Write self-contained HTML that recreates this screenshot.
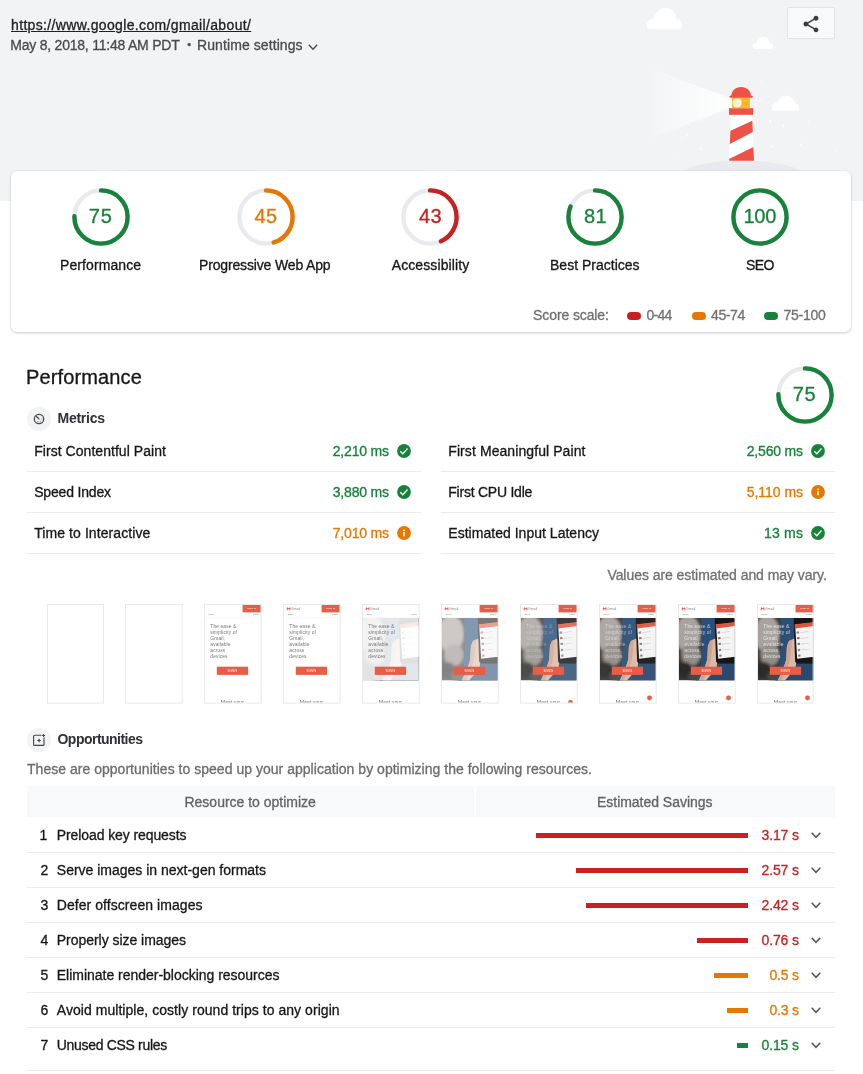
<!DOCTYPE html>
<html lang="en"><head><meta charset="utf-8"><title>Lighthouse Report</title>
<style>
html,body{margin:0;padding:0;background:#fff}
body{width:863px;height:1074px;position:relative;overflow:hidden;font-family:"Liberation Sans", sans-serif;-webkit-font-smoothing:antialiased}
.abs{position:absolute;display:block}
.t{position:absolute;white-space:nowrap;line-height:20px;height:20px;margin:0;padding:0;-webkit-text-stroke:.3px currentColor}
</style></head>
<body>
<div class="abs" style="left:0;top:0;width:863px;height:201px;background:#f1f3f4"></div>
<svg class="abs" style="left:0;top:0" width="863" height="171" viewBox="0 0 863 171">
<defs>
<linearGradient id="beam" x1="0" y1="0" x2="1" y2="0"><stop offset="0" stop-color="#fff" stop-opacity="0"/><stop offset="0.1" stop-color="#fff" stop-opacity="0.24"/><stop offset="1" stop-color="#fff" stop-opacity="1"/></linearGradient>
<clipPath id="hdr"><rect x="0" y="0" width="863" height="171"/></clipPath>
</defs>
<g clip-path="url(#hdr)">
<ellipse cx="742" cy="180.6" rx="68" ry="20.2" fill="#e8eaed"/>
<polygon points="647,67 647,139.5 737,105.5 737,100.5" fill="url(#beam)"/>
<g fill="#fff">
<path d="M650.2 29.2a3.6 3.6 0 0 1-3.5-3.6c0-4 3.2-7 7.2-6.6 1.2-6 5.6-10.9 11.6-10.9 6.3 0 10.6 4.6 11 10.7 3.2.4 5.6 3 5.600 6.200 0 2.200-1.400 4.200-3.800 4.200z"/>
<path d="M754.800 48.900a2 2 0 0 1-2-2.100c0-2.300 1.900-4 4.100-3.800.7-3.400 3.200-6.100 6.600-6.100 3.600 0 6 2.600 6.300 6 1.800.2 3.300 1.700 3.300 3.600 0 1.300-.9 2.400-2.200 2.400z"/>
<path d="M774.700 110.700a2.700 2.700 0 0 1-2.700-2.800c0-3 2.500-5.300 5.500-5 .9-4.500 4.300-7.100 8.800-7.100 4.800 0 8 2.800 8.400 7.300 2.500.3 4.500 2.300 4.500 4.700 0 1.700-1.200 2.900-3 2.900z"/>
<circle cx="761.500" cy="81.500" r=".9"/><circle cx="760" cy="100.900" r="1"/><circle cx="770" cy="121" r="1"/><circle cx="783.400" cy="125.500" r=".9"/><circle cx="771.500" cy="146.500" r=".9"/><circle cx="701" cy="149" r=".9"/>
<circle cx="688.500" cy="125" r=".8"/><circle cx="702" cy="120" r=".8"/><circle cx="682" cy="138" r=".8"/><circle cx="687.500" cy="135" r=".8"/><circle cx="674.500" cy="159.500" r=".8"/><circle cx="800.500" cy="144.500" r=".9"/><circle cx="808.500" cy="122" r=".8"/><circle cx="835.500" cy="150" r=".8"/><circle cx="761.500" cy="81.500" r=".8"/>
</g>
<polygon points="731.100,114.800 752.100,114.800 754,160.700 729,160.700" fill="#fff"/>
<polygon points="752.300,120.700 752.800,132.100 729.800,144 730.400,130.800" fill="#ec5246"/>
<polygon points="753.400,147 754,160.700 729,160.700 729.100,159" fill="#ec5246"/>
<rect x="729" y="108.200" width="24.200" height="6.600" fill="#ec5246"/>
<rect x="732.100" y="97.500" width="17.700" height="10.800" fill="#f6b52a"/>
<circle cx="737.100" cy="102.900" r="4.700" fill="#fdf0d2"/>
<path d="M731.300 96.200c0-5.600 4.300-9.200 9.800-9.200s9.800 3.600 9.800 9.200z" fill="#ec5246"/>
<path d="M729 96.700l1.500-1.100h21.200l1.500 1.100-1.500 1.100h-21.200z" fill="#ec5246"/>
</g>
</svg>

<div class="abs" style="left:787.3px;top:7.4px;width:47.4px;height:31.6px;box-sizing:border-box;background:#f8f9fa;border:1px solid #e3e4e6;border-radius:2px"></div>
<svg class="abs" style="left:801px;top:13.6px" width="20" height="20" viewBox="0 0 24 24"><path fill="#3c3c3c" d="M18 16.08c-.76 0-1.44.3-1.96.77L8.91 12.7c.05-.23.09-.46.09-.7s-.04-.47-.09-.7l7.05-4.11c.54.5 1.25.81 2.04.81 1.66 0 3-1.34 3-3s-1.34-3-3-3-3 1.34-3 3c0 .24.04.47.09.7L8.04 9.81C7.5 9.31 6.79 9 6 9c-1.66 0-3 1.34-3 3s1.34 3 3 3c.79 0 1.5-.31 2.04-.81l7.12 4.16c-.05.21-.08.43-.08.65 0 1.61 1.31 2.92 2.92 2.92 1.61 0 2.92-1.31 2.92-2.92s-1.31-2.92-2.92-2.92z"/></svg>
<svg class="abs" style="left:304.5px;top:38.8px" width="16" height="16" viewBox="-8 -8 16 16"><path d="M-4.2 -2.2 L0 2.2 L4.2 -2.2" fill="none" stroke="#4a4a4a" stroke-width="1.4"/></svg>
<div class="abs" style="left:11px;top:171px;width:840px;height:161px;background:#fff;border-radius:6px;box-shadow:0 1px 3px rgba(0,0,0,.2),0 0 1px rgba(0,0,0,.1)"></div>
<svg class="abs" style="left:70.7px;top:186.8px" width="60" height="60" viewBox="0 0 60 60"><circle cx="30" cy="30" r="26.6" fill="none" stroke="#e8eaed" stroke-width="4.4"/><circle cx="30" cy="30" r="26.6" fill="none" stroke="#178239" stroke-width="4.4" stroke-linecap="round" stroke-dasharray="125.35 167.13" transform="rotate(-90 30 30)"/></svg>
<svg class="abs" style="left:235.8px;top:186.8px" width="60" height="60" viewBox="0 0 60 60"><circle cx="30" cy="30" r="26.6" fill="none" stroke="#e8eaed" stroke-width="4.4"/><circle cx="30" cy="30" r="26.6" fill="none" stroke="#e67700" stroke-width="4.4" stroke-linecap="round" stroke-dasharray="75.21 167.13" transform="rotate(-90 30 30)"/></svg>
<svg class="abs" style="left:400px;top:186.8px" width="60" height="60" viewBox="0 0 60 60"><circle cx="30" cy="30" r="26.6" fill="none" stroke="#e8eaed" stroke-width="4.4"/><circle cx="30" cy="30" r="26.6" fill="none" stroke="#c7221f" stroke-width="4.4" stroke-linecap="round" stroke-dasharray="71.87 167.13" transform="rotate(-90 30 30)"/></svg>
<svg class="abs" style="left:565px;top:186.8px" width="60" height="60" viewBox="0 0 60 60"><circle cx="30" cy="30" r="26.6" fill="none" stroke="#e8eaed" stroke-width="4.4"/><circle cx="30" cy="30" r="26.6" fill="none" stroke="#178239" stroke-width="4.4" stroke-linecap="round" stroke-dasharray="135.38 167.13" transform="rotate(-90 30 30)"/></svg>
<svg class="abs" style="left:730px;top:186.8px" width="60" height="60" viewBox="0 0 60 60"><circle cx="30" cy="30" r="26.6" fill="none" stroke="#e8eaed" stroke-width="4.4"/><circle cx="30" cy="30" r="26.6" fill="none" stroke="#178239" stroke-width="4.4" stroke-linecap="round" stroke-dasharray="167.13 167.13" transform="rotate(-90 30 30)"/></svg>
<div class="abs" style="left:626.5px;top:312.4px;width:14.3px;height:7.2px;border-radius:4px;background:#c7221f"></div>
<div class="abs" style="left:691.7px;top:312.4px;width:14.3px;height:7.2px;border-radius:4px;background:#e67700"></div>
<div class="abs" style="left:763.8px;top:312.4px;width:14.3px;height:7.2px;border-radius:4px;background:#178239"></div>
<svg class="abs" style="left:774.75px;top:364.9px" width="60" height="60" viewBox="0 0 60 60"><circle cx="30" cy="30" r="26.6" fill="none" stroke="#e8eaed" stroke-width="4.4"/><circle cx="30" cy="30" r="26.6" fill="none" stroke="#178239" stroke-width="4.4" stroke-linecap="round" stroke-dasharray="125.35 167.13" transform="rotate(-90 30 30)"/></svg>
<svg class="abs" style="left:27px;top:406.8px" width="24" height="24" viewBox="0 0 24 24"><circle cx="12" cy="12" r="12" fill="#f1f3f4"/><circle cx="12" cy="12" r="4.7" fill="none" stroke="#4a4a4a" stroke-width="1.25"/><path d="M12.3 12.3 L8.9 9" stroke="#4a4a4a" stroke-width="1.2" fill="none"/><path d="M10.6 15.1l.4-.9M13.400 15.100l-.4-.9M15.300 12h-1" stroke="#4a4a4a" stroke-width=".8" fill="none"/></svg>
<svg class="abs" style="left:27px;top:727.6px" width="24" height="24" viewBox="0 0 24 24"><circle cx="12" cy="12" r="12" fill="#f1f3f4"/><rect x="6.6" y="7.2" width="10.4" height="10.2" rx="1" fill="none" stroke="#444" stroke-width="1.1"/><path d="M12.100 10.300l.7 1.500 1.500.7-1.500.7-.7 1.500-.7-1.500-1.500-.7 1.500-.7z" fill="#444"/><rect x="14.5" y="5.5" width="4" height="4" fill="#f1f3f4"/><path d="M16.6 6v3M15.1 7.5h3" stroke="#444" stroke-width="1"/></svg>
<div class="abs" style="left:27px;top:471px;width:394px;height:1px;background:#ebebeb"></div>
<div class="abs" style="left:441px;top:471px;width:394px;height:1px;background:#ebebeb"></div>
<div class="abs" style="left:27px;top:512px;width:394px;height:1px;background:#ebebeb"></div>
<div class="abs" style="left:441px;top:512px;width:394px;height:1px;background:#ebebeb"></div>
<div class="abs" style="left:27px;top:553px;width:394px;height:1px;background:#ebebeb"></div>
<div class="abs" style="left:441px;top:553px;width:394px;height:1px;background:#ebebeb"></div>
<svg class="abs" style="left:396.9px;top:443.8px" width="14" height="14" viewBox="0 0 14 14"><circle cx="7" cy="7" r="6.9" fill="#178239"/><path d="M3.3 7.3 L5.8 9.7 L10.5 4.5" fill="none" stroke="#fff" stroke-width="1.4"/></svg>
<svg class="abs" style="left:810.9px;top:443.8px" width="14" height="14" viewBox="0 0 14 14"><circle cx="7" cy="7" r="6.9" fill="#178239"/><path d="M3.3 7.3 L5.8 9.7 L10.5 4.5" fill="none" stroke="#fff" stroke-width="1.4"/></svg>
<svg class="abs" style="left:396.9px;top:484.8px" width="14" height="14" viewBox="0 0 14 14"><circle cx="7" cy="7" r="6.9" fill="#178239"/><path d="M3.3 7.3 L5.8 9.7 L10.5 4.5" fill="none" stroke="#fff" stroke-width="1.4"/></svg>
<svg class="abs" style="left:810.9px;top:484.8px" width="14" height="14" viewBox="0 0 14 14"><circle cx="7" cy="7" r="6.9" fill="#e67700"/><rect x="6.2" y="6.1" width="1.6" height="4.2" fill="#fff"/><rect x="6.2" y="3.6" width="1.6" height="1.6" fill="#fff"/></svg>
<svg class="abs" style="left:396.9px;top:525.8px" width="14" height="14" viewBox="0 0 14 14"><circle cx="7" cy="7" r="6.9" fill="#e67700"/><rect x="6.2" y="6.1" width="1.6" height="4.2" fill="#fff"/><rect x="6.2" y="3.6" width="1.6" height="1.6" fill="#fff"/></svg>
<svg class="abs" style="left:810.9px;top:525.8px" width="14" height="14" viewBox="0 0 14 14"><circle cx="7" cy="7" r="6.9" fill="#178239"/><path d="M3.3 7.3 L5.8 9.7 L10.5 4.5" fill="none" stroke="#fff" stroke-width="1.4"/></svg>
<svg width="0" height="0" style="position:absolute"><defs>
<filter id="b1" x="-20%" y="-20%" width="140%" height="140%"><feGaussianBlur stdDeviation="1.6"/></filter>
<filter id="b2" x="-20%" y="-20%" width="140%" height="140%"><feGaussianBlur stdDeviation=".45"/></filter>
<clipPath id="pc"><rect x="1" y="13.9" width="55.8" height="62.5"/></clipPath>
<g id="photo" clip-path="url(#pc)">
<rect x="1" y="13.9" width="55.8" height="62.5" fill="#3b3835"/>
<g filter="url(#b1)">
<ellipse cx="10" cy="30" rx="13" ry="19" fill="#a8a39f"/>
<ellipse cx="13" cy="51" rx="10" ry="11" fill="#928d88"/>
<ellipse cx="6" cy="66" rx="9" ry="8" fill="#2c2a29"/>
<ellipse cx="20" cy="72" rx="10" ry="6" fill="#4a4744"/>
</g>
<g filter="url(#b2)">
<polygon points="23.37,13.84 37.41,13.84 37.41,59.44 24.6,76.87 17.94,76.87 22.55,61.49 23.78,43.05" fill="#2c5079"/>
<polygon points="37.92,57.39 57.39,55.34 57.39,76.87 24.6,76.87 32.8,65.59" fill="#2a4a70"/>
<polygon points="29.93,42.02 31.98,36.9 37.72,34.33 39.56,55.34 38.54,64.57 27.67,76.87 20.7,76.87 26.44,64.57 29.31,55.34" fill="#dcb8a4"/>
<polygon points="29.93,42.02 31.98,36.9 34.85,35.67 34.03,47.15 31.98,59.44 27.67,69.69 24.6,76.87 20.7,76.87 26.44,64.57 29.31,55.34" fill="#cfa48f"/>
<polygon points="36.69,14.35 57.39,14.35 57.39,59.44 39.97,59.44 38.13,57.39" fill="#121212"/>
<polygon points="38.13,20.7 57.39,18.45 57.39,52.78 40.18,54.83" fill="#f4f4f4"/>
<polygon points="37.72,20.29 57.39,18.04 57.39,22.03 37.92,24.6" fill="#e0553f"/>
<polygon points="39.46,27.67 42.02,27.36 42.23,29.52 39.66,29.82" fill="#8d8d8d"/>
<polygon points="39.97,33.31 42.43,33 42.64,35.05 40.18,35.36" fill="#a35a4a"/>
<polygon points="40.48,38.95 42.84,38.64 43.05,40.79 40.69,41.1" fill="#777"/>
<polygon points="40.79,45.1 43.05,44.79 43.25,46.94 41,47.25" fill="#8d8d8d"/>
<polygon points="41.2,50.73 43.35,50.42 43.56,52.47 41.41,52.78" fill="#777"/>
<polygon points="43.05,28.18 51.24,27.36 51.24,27.98 43.05,28.8" fill="#c9c9c9"/>
<polygon points="43.56,34.03 51.76,33.21 51.76,33.82 43.56,34.64" fill="#c9c9c9"/>
<polygon points="43.87,39.77 52.06,38.95 52.06,39.56 43.87,40.38" fill="#c9c9c9"/>
<polygon points="44.07,45.71 52.27,44.89 52.27,45.51 44.07,46.33" fill="#c9c9c9"/>
</g>
</g>







<clipPath id="fc"><rect x="1" y="1" width="55.800" height="97.700"/></clipPath></defs></svg>
<svg class="abs" style="left:47px;top:604.1px" width="57" height="99.600" viewBox="0 0 57 99.600" preserveAspectRatio="none"><rect x="0" y="0" width="57" height="99.600" fill="#fff"/><rect x=".5" y=".5" width="56" height="98.600" fill="none" stroke="#e9e9e9" stroke-width="1"/></svg>
<svg class="abs" style="left:125.2px;top:604.1px" width="57.7" height="99.600" viewBox="0 0 57.7 99.600" preserveAspectRatio="none"><rect x="0" y="0" width="57.7" height="99.600" fill="#fff"/><rect x=".5" y=".5" width="56.7" height="98.600" fill="none" stroke="#e9e9e9" stroke-width="1"/></svg>
<svg class="abs" style="left:204.15px;top:604.1px" width="57.7" height="99.600" viewBox="0 0 57.7 99.600" preserveAspectRatio="none"><rect x="0" y="0" width="57.7" height="99.600" fill="#fff"/><g clip-path="url(#fc)"><g><text x="3.700" y="11" font-size="2" fill="#8a8a8a" font-family="Liberation Sans, sans-serif">ABOUT</text><text x="49" y="11" font-size="2" fill="#8a8a8a" font-family="Liberation Sans, sans-serif">MENU</text><rect x="1" y="13.500" width="55.800" height=".4" fill="#eef0f2"/></g><g><rect x="38.600" y=".9" width="18.300" height="7.500" fill="#e75d45"/><text x="47.700" y="5.500" font-size="2.400" fill="#fff" fill-opacity=".9" text-anchor="middle" font-family="Liberation Sans, sans-serif">SIGN IN</text></g><g font-size="4.900" letter-spacing=".12" font-family="Liberation Sans, sans-serif" fill="#777"><text x="6.300" y="23.700">The ease &amp;</text><text x="6.300" y="29.800">simplicity of</text><text x="6.300" y="35.900">Gmail,</text><text x="6.300" y="42">available</text><text x="6.300" y="48.100">across</text><text x="6.300" y="54.200">devices</text></g><g><rect x="12.800" y="62.700" width="31.300" height="8.200" fill="#e75d45"/><text x="28.400" y="67.700" font-size="2.600" fill="#fff" fill-opacity=".95" text-anchor="middle" font-family="Liberation Sans, sans-serif">SIGN IN</text></g><g><text x="28.400" y="100.200" font-size="5.200" fill="#666" text-anchor="middle" font-family="Liberation Sans, sans-serif">Meet your</text></g></g><rect x=".5" y=".5" width="56.7" height="98.600" fill="none" stroke="#e9e9e9" stroke-width="1"/></svg>
<svg class="abs" style="left:283.1px;top:604.1px" width="57.7" height="99.600" viewBox="0 0 57.7 99.600" preserveAspectRatio="none"><rect x="0" y="0" width="57.7" height="99.600" fill="#fff"/><g clip-path="url(#fc)"><g><path d="M3.8 3.500h.85l.95.95.95-.95h.85v2.800h-.85v-1.700l-.95.9-.95-.9v1.700h-.85z" fill="#e5493a"/><text x="8.100" y="6.300" font-size="3.500" fill="#8a8a8a" font-family="Liberation Sans, sans-serif">Gmail</text></g><g><text x="3.700" y="11" font-size="2" fill="#8a8a8a" font-family="Liberation Sans, sans-serif">ABOUT</text><text x="49" y="11" font-size="2" fill="#8a8a8a" font-family="Liberation Sans, sans-serif">MENU</text><rect x="1" y="13.500" width="55.800" height=".4" fill="#eef0f2"/></g><g><rect x="38.600" y=".9" width="18.300" height="7.500" fill="#e75d45"/><text x="47.700" y="5.500" font-size="2.400" fill="#fff" fill-opacity=".9" text-anchor="middle" font-family="Liberation Sans, sans-serif">SIGN IN</text></g><g font-size="4.900" letter-spacing=".12" font-family="Liberation Sans, sans-serif" fill="#777"><text x="6.300" y="23.700">The ease &amp;</text><text x="6.300" y="29.800">simplicity of</text><text x="6.300" y="35.900">Gmail,</text><text x="6.300" y="42">available</text><text x="6.300" y="48.100">across</text><text x="6.300" y="54.200">devices</text></g><g><rect x="12.800" y="62.700" width="31.300" height="8.200" fill="#e75d45"/><text x="28.400" y="67.700" font-size="2.600" fill="#fff" fill-opacity=".95" text-anchor="middle" font-family="Liberation Sans, sans-serif">SIGN IN</text></g><g><text x="28.400" y="100.200" font-size="5.200" fill="#666" text-anchor="middle" font-family="Liberation Sans, sans-serif">Meet your</text></g></g><rect x=".5" y=".5" width="56.7" height="98.600" fill="none" stroke="#e9e9e9" stroke-width="1"/></svg>
<svg class="abs" style="left:362.05px;top:604.1px" width="57.7" height="99.600" viewBox="0 0 57.7 99.600" preserveAspectRatio="none"><rect x="0" y="0" width="57.7" height="99.600" fill="#fff"/><g clip-path="url(#fc)"><g><path d="M3.8 3.500h.85l.95.95.95-.95h.85v2.800h-.85v-1.700l-.95.9-.95-.9v1.700h-.85z" fill="#e5493a"/><text x="8.100" y="6.300" font-size="3.500" fill="#8a8a8a" font-family="Liberation Sans, sans-serif">Gmail</text></g><g><text x="3.700" y="11" font-size="2" fill="#8a8a8a" font-family="Liberation Sans, sans-serif">ABOUT</text><text x="49" y="11" font-size="2" fill="#8a8a8a" font-family="Liberation Sans, sans-serif">MENU</text><rect x="1" y="13.500" width="55.800" height=".4" fill="#eef0f2"/></g><use href="#photo"/><rect x="1" y="13.900" width="55.800" height="62.500" fill="#fff" fill-opacity=".87"/><g font-size="4.900" letter-spacing=".12" font-family="Liberation Sans, sans-serif" fill="#777"><text x="6.300" y="23.700">The ease &amp;</text><text x="6.300" y="29.800">simplicity of</text><text x="6.300" y="35.900">Gmail,</text><text x="6.300" y="42">available</text><text x="6.300" y="48.100">across</text><text x="6.300" y="54.200">devices</text></g><g><rect x="12.800" y="62.700" width="31.300" height="8.200" fill="#e75d45"/><text x="28.400" y="67.700" font-size="2.600" fill="#fff" fill-opacity=".95" text-anchor="middle" font-family="Liberation Sans, sans-serif">SIGN IN</text></g><g><text x="28.400" y="100.200" font-size="5.200" fill="#666" text-anchor="middle" font-family="Liberation Sans, sans-serif">Meet your</text></g></g><rect x=".5" y=".5" width="56.7" height="98.600" fill="none" stroke="#e9e9e9" stroke-width="1"/></svg>
<svg class="abs" style="left:441.05px;top:604.1px" width="57.7" height="99.600" viewBox="0 0 57.7 99.600" preserveAspectRatio="none"><rect x="0" y="0" width="57.7" height="99.600" fill="#fff"/><g clip-path="url(#fc)"><g><path d="M3.8 3.500h.85l.95.95.95-.95h.85v2.800h-.85v-1.700l-.95.9-.95-.9v1.700h-.85z" fill="#e5493a"/><text x="8.100" y="6.300" font-size="3.500" fill="#8a8a8a" font-family="Liberation Sans, sans-serif">Gmail</text></g><g><text x="3.700" y="11" font-size="2" fill="#8a8a8a" font-family="Liberation Sans, sans-serif">ABOUT</text><text x="49" y="11" font-size="2" fill="#8a8a8a" font-family="Liberation Sans, sans-serif">MENU</text><rect x="1" y="13.500" width="55.800" height=".4" fill="#eef0f2"/></g><g><rect x="38.600" y=".9" width="18.300" height="7.500" fill="#e75d45"/><text x="47.700" y="5.500" font-size="2.400" fill="#fff" fill-opacity=".9" text-anchor="middle" font-family="Liberation Sans, sans-serif">SIGN IN</text></g><use href="#photo"/><rect x="1" y="13.900" width="55.800" height="62.500" fill="#fff" fill-opacity=".42"/><g><rect x="12.800" y="62.700" width="31.300" height="8.200" fill="#e75d45"/><text x="28.400" y="67.700" font-size="2.600" fill="#fff" fill-opacity=".95" text-anchor="middle" font-family="Liberation Sans, sans-serif">SIGN IN</text></g><g><text x="28.400" y="100.200" font-size="5.200" fill="#666" text-anchor="middle" font-family="Liberation Sans, sans-serif">Meet your</text></g></g><rect x=".5" y=".5" width="56.7" height="98.600" fill="none" stroke="#e9e9e9" stroke-width="1"/></svg>
<svg class="abs" style="left:520px;top:604.1px" width="57.7" height="99.600" viewBox="0 0 57.7 99.600" preserveAspectRatio="none"><rect x="0" y="0" width="57.7" height="99.600" fill="#fff"/><g clip-path="url(#fc)"><g><path d="M3.8 3.500h.85l.95.95.95-.95h.85v2.800h-.85v-1.700l-.95.9-.95-.9v1.700h-.85z" fill="#e5493a"/><text x="8.100" y="6.300" font-size="3.500" fill="#8a8a8a" font-family="Liberation Sans, sans-serif">Gmail</text></g><g><text x="3.700" y="11" font-size="2" fill="#8a8a8a" font-family="Liberation Sans, sans-serif">ABOUT</text><text x="49" y="11" font-size="2" fill="#8a8a8a" font-family="Liberation Sans, sans-serif">MENU</text><rect x="1" y="13.500" width="55.800" height=".4" fill="#eef0f2"/></g><g><rect x="38.600" y=".9" width="18.300" height="7.500" fill="#e75d45"/><text x="47.700" y="5.500" font-size="2.400" fill="#fff" fill-opacity=".9" text-anchor="middle" font-family="Liberation Sans, sans-serif">SIGN IN</text></g><use href="#photo"/><rect x="1" y="13.900" width="55.800" height="62.500" fill="#fff" fill-opacity=".16"/><g font-size="4.900" letter-spacing=".12" font-family="Liberation Sans, sans-serif" fill="#fff" fill-opacity=".3"><text x="6.300" y="23.700">The ease &amp;</text><text x="6.300" y="29.800">simplicity of</text><text x="6.300" y="35.900">Gmail,</text><text x="6.300" y="42">available</text><text x="6.300" y="48.100">across</text><text x="6.300" y="54.200">devices</text></g><g><rect x="12.800" y="62.700" width="31.300" height="8.200" fill="#e75d45"/><text x="28.400" y="67.700" font-size="2.600" fill="#fff" fill-opacity=".95" text-anchor="middle" font-family="Liberation Sans, sans-serif">SIGN IN</text></g><g><text x="28.400" y="100.200" font-size="5.200" fill="#666" text-anchor="middle" font-family="Liberation Sans, sans-serif">Meet your</text></g><g transform="translate(0 4.6)"><circle cx="50.500" cy="94.100" r="2.900" fill="#000" fill-opacity=".1"/><circle cx="50.500" cy="93.800" r="2.350" fill="#e75d45"/></g></g><rect x=".5" y=".5" width="56.7" height="98.600" fill="none" stroke="#e9e9e9" stroke-width="1"/></svg>
<svg class="abs" style="left:598.9px;top:604.1px" width="57.7" height="99.600" viewBox="0 0 57.7 99.600" preserveAspectRatio="none"><rect x="0" y="0" width="57.7" height="99.600" fill="#fff"/><g clip-path="url(#fc)"><g><path d="M3.8 3.500h.85l.95.95.95-.95h.85v2.800h-.85v-1.700l-.95.9-.95-.9v1.700h-.85z" fill="#e5493a"/><text x="8.100" y="6.300" font-size="3.500" fill="#8a8a8a" font-family="Liberation Sans, sans-serif">Gmail</text></g><g><text x="3.700" y="11" font-size="2" fill="#8a8a8a" font-family="Liberation Sans, sans-serif">ABOUT</text><text x="49" y="11" font-size="2" fill="#8a8a8a" font-family="Liberation Sans, sans-serif">MENU</text><rect x="1" y="13.500" width="55.800" height=".4" fill="#eef0f2"/></g><g><rect x="38.600" y=".9" width="18.300" height="7.500" fill="#e75d45"/><text x="47.700" y="5.500" font-size="2.400" fill="#fff" fill-opacity=".9" text-anchor="middle" font-family="Liberation Sans, sans-serif">SIGN IN</text></g><use href="#photo"/><rect x="1" y="13.900" width="55.800" height="62.500" fill="#fff" fill-opacity=".06"/><g font-size="4.900" letter-spacing=".12" font-family="Liberation Sans, sans-serif" fill="#fff" fill-opacity=".5"><text x="6.300" y="23.700">The ease &amp;</text><text x="6.300" y="29.800">simplicity of</text><text x="6.300" y="35.900">Gmail,</text><text x="6.300" y="42">available</text><text x="6.300" y="48.100">across</text><text x="6.300" y="54.200">devices</text></g><g><rect x="12.800" y="62.700" width="31.300" height="8.200" fill="#e75d45"/><text x="28.400" y="67.700" font-size="2.600" fill="#fff" fill-opacity=".95" text-anchor="middle" font-family="Liberation Sans, sans-serif">SIGN IN</text></g><g><text x="28.400" y="100.200" font-size="5.200" fill="#666" text-anchor="middle" font-family="Liberation Sans, sans-serif">Meet your</text></g><g><circle cx="50.500" cy="94.100" r="2.900" fill="#000" fill-opacity=".1"/><circle cx="50.500" cy="93.800" r="2.350" fill="#e75d45"/></g></g><rect x=".5" y=".5" width="56.7" height="98.600" fill="none" stroke="#e9e9e9" stroke-width="1"/></svg>
<svg class="abs" style="left:677.85px;top:604.1px" width="57.7" height="99.600" viewBox="0 0 57.7 99.600" preserveAspectRatio="none"><rect x="0" y="0" width="57.7" height="99.600" fill="#fff"/><g clip-path="url(#fc)"><g><path d="M3.8 3.500h.85l.95.95.95-.95h.85v2.800h-.85v-1.700l-.95.9-.95-.9v1.700h-.85z" fill="#e5493a"/><text x="8.100" y="6.300" font-size="3.500" fill="#8a8a8a" font-family="Liberation Sans, sans-serif">Gmail</text></g><g><text x="3.700" y="11" font-size="2" fill="#8a8a8a" font-family="Liberation Sans, sans-serif">ABOUT</text><text x="49" y="11" font-size="2" fill="#8a8a8a" font-family="Liberation Sans, sans-serif">MENU</text><rect x="1" y="13.500" width="55.800" height=".4" fill="#eef0f2"/></g><g><rect x="38.600" y=".9" width="18.300" height="7.500" fill="#e75d45"/><text x="47.700" y="5.500" font-size="2.400" fill="#fff" fill-opacity=".9" text-anchor="middle" font-family="Liberation Sans, sans-serif">SIGN IN</text></g><use href="#photo"/><g font-size="4.900" letter-spacing=".12" font-family="Liberation Sans, sans-serif" fill="#fff" fill-opacity=".66"><text x="6.300" y="23.700">The ease &amp;</text><text x="6.300" y="29.800">simplicity of</text><text x="6.300" y="35.900">Gmail,</text><text x="6.300" y="42">available</text><text x="6.300" y="48.100">across</text><text x="6.300" y="54.200">devices</text></g><g><rect x="12.800" y="62.700" width="31.300" height="8.200" fill="#e75d45"/><text x="28.400" y="67.700" font-size="2.600" fill="#fff" fill-opacity=".95" text-anchor="middle" font-family="Liberation Sans, sans-serif">SIGN IN</text></g><g><text x="28.400" y="100.200" font-size="5.200" fill="#666" text-anchor="middle" font-family="Liberation Sans, sans-serif">Meet your</text></g><g><circle cx="50.500" cy="94.100" r="2.900" fill="#000" fill-opacity=".1"/><circle cx="50.500" cy="93.800" r="2.350" fill="#e75d45"/></g></g><rect x=".5" y=".5" width="56.7" height="98.600" fill="none" stroke="#e9e9e9" stroke-width="1"/></svg>
<svg class="abs" style="left:757.15px;top:604.1px" width="56.7" height="99.600" viewBox="0 0 56.7 99.600" preserveAspectRatio="none"><rect x="0" y="0" width="56.7" height="99.600" fill="#fff"/><g clip-path="url(#fc)"><g><path d="M3.8 3.500h.85l.95.95.95-.95h.85v2.800h-.85v-1.700l-.95.9-.95-.9v1.700h-.85z" fill="#e5493a"/><text x="8.100" y="6.300" font-size="3.500" fill="#8a8a8a" font-family="Liberation Sans, sans-serif">Gmail</text></g><g><text x="3.700" y="11" font-size="2" fill="#8a8a8a" font-family="Liberation Sans, sans-serif">ABOUT</text><text x="49" y="11" font-size="2" fill="#8a8a8a" font-family="Liberation Sans, sans-serif">MENU</text><rect x="1" y="13.500" width="55.800" height=".4" fill="#eef0f2"/></g><g><rect x="38.600" y=".9" width="18.300" height="7.500" fill="#e75d45"/><text x="47.700" y="5.500" font-size="2.400" fill="#fff" fill-opacity=".9" text-anchor="middle" font-family="Liberation Sans, sans-serif">SIGN IN</text></g><use href="#photo"/><g font-size="4.900" letter-spacing=".12" font-family="Liberation Sans, sans-serif" fill="#fff" fill-opacity=".74"><text x="6.300" y="23.700">The ease &amp;</text><text x="6.300" y="29.800">simplicity of</text><text x="6.300" y="35.900">Gmail,</text><text x="6.300" y="42">available</text><text x="6.300" y="48.100">across</text><text x="6.300" y="54.200">devices</text></g><g><rect x="12.800" y="62.700" width="31.300" height="8.200" fill="#e75d45"/><text x="28.400" y="67.700" font-size="2.600" fill="#fff" fill-opacity=".95" text-anchor="middle" font-family="Liberation Sans, sans-serif">SIGN IN</text></g><g><text x="28.400" y="100.200" font-size="5.200" fill="#666" text-anchor="middle" font-family="Liberation Sans, sans-serif">Meet your</text></g><g><circle cx="50.500" cy="94.100" r="2.900" fill="#000" fill-opacity=".1"/><circle cx="50.500" cy="93.800" r="2.350" fill="#e75d45"/></g></g><rect x=".5" y=".5" width="55.7" height="98.600" fill="none" stroke="#e9e9e9" stroke-width="1"/></svg>
<div class="abs" style="left:27px;top:786.3px;width:447px;height:31.2px;background:#f8f9fa"></div>
<div class="abs" style="left:476px;top:786.3px;width:358.5px;height:31.2px;background:#f8f9fa"></div>
<div class="abs" style="left:535.8px;top:832.6px;width:212.20000000000005px;height:5.2px;background:#c7221f"></div>
<svg class="abs" style="left:807.6px;top:827.2px" width="16" height="16" viewBox="-8 -8 16 16"><path d="M-4.3 -2.3 L0 2.3 L4.3 -2.3" fill="none" stroke="#555" stroke-width="1.5"/></svg>
<div class="abs" style="left:27px;top:852px;width:807.5px;height:1px;background:#ebebeb"></div>
<div class="abs" style="left:575.9px;top:867.6px;width:172.10000000000002px;height:5.2px;background:#c7221f"></div>
<svg class="abs" style="left:807.6px;top:862.2px" width="16" height="16" viewBox="-8 -8 16 16"><path d="M-4.3 -2.3 L0 2.3 L4.3 -2.3" fill="none" stroke="#555" stroke-width="1.5"/></svg>
<div class="abs" style="left:27px;top:887px;width:807.5px;height:1px;background:#ebebeb"></div>
<div class="abs" style="left:585.8px;top:902.6px;width:162.20000000000005px;height:5.2px;background:#c7221f"></div>
<svg class="abs" style="left:807.6px;top:897.2px" width="16" height="16" viewBox="-8 -8 16 16"><path d="M-4.3 -2.3 L0 2.3 L4.3 -2.3" fill="none" stroke="#555" stroke-width="1.5"/></svg>
<div class="abs" style="left:27px;top:922px;width:807.5px;height:1px;background:#ebebeb"></div>
<div class="abs" style="left:696.7px;top:937.6px;width:51.299999999999955px;height:5.2px;background:#c7221f"></div>
<svg class="abs" style="left:807.6px;top:932.2px" width="16" height="16" viewBox="-8 -8 16 16"><path d="M-4.3 -2.3 L0 2.3 L4.3 -2.3" fill="none" stroke="#555" stroke-width="1.5"/></svg>
<div class="abs" style="left:27px;top:957px;width:807.5px;height:1px;background:#ebebeb"></div>
<div class="abs" style="left:713.75px;top:972.6px;width:34.25px;height:5.2px;background:#e67700"></div>
<svg class="abs" style="left:807.6px;top:967.2px" width="16" height="16" viewBox="-8 -8 16 16"><path d="M-4.3 -2.3 L0 2.3 L4.3 -2.3" fill="none" stroke="#555" stroke-width="1.5"/></svg>
<div class="abs" style="left:27px;top:992px;width:807.5px;height:1px;background:#ebebeb"></div>
<div class="abs" style="left:726.75px;top:1007.6px;width:21.25px;height:5.2px;background:#e67700"></div>
<svg class="abs" style="left:807.6px;top:1002.2px" width="16" height="16" viewBox="-8 -8 16 16"><path d="M-4.3 -2.3 L0 2.3 L4.3 -2.3" fill="none" stroke="#555" stroke-width="1.5"/></svg>
<div class="abs" style="left:27px;top:1027px;width:807.5px;height:1px;background:#ebebeb"></div>
<div class="abs" style="left:736.75px;top:1042.6000000000001px;width:11.25px;height:5.2px;background:#178239"></div>
<svg class="abs" style="left:807.6px;top:1037.2px" width="16" height="16" viewBox="-8 -8 16 16"><path d="M-4.3 -2.3 L0 2.3 L4.3 -2.3" fill="none" stroke="#555" stroke-width="1.5"/></svg>
<div class="abs" style="left:27px;top:1070px;width:807.5px;height:1px;background:#ebebeb"></div>
<span class="t" id="t0" style="left:11.00px;top:15.00px;font-size:14px;font-weight:400;color:#202124;letter-spacing:0.350px;text-decoration:underline;">https://www.google.com/gmail/about/</span>
<span class="t" id="t1" style="left:10.20px;top:35.00px;font-size:14px;font-weight:400;color:#4a4a4a;letter-spacing:-0.219px;">May 8, 2018, 11:48 AM PDT</span>
<span class="t" id="t2" style="left:187.20px;top:34.00px;font-size:11px;font-weight:400;color:#4a4a4a;letter-spacing:0.000px;">•</span>
<span class="t" id="t3" style="left:197.00px;top:35.00px;font-size:14px;font-weight:400;color:#4a4a4a;letter-spacing:0.089px;">Runtime settings</span>
<span class="t" id="t4" style="left:60.00px;top:255.00px;font-size:14px;font-weight:400;color:#161616;letter-spacing:0.089px;">Performance</span>
<span class="t" id="t5" style="left:199.00px;top:255.00px;font-size:14px;font-weight:400;color:#161616;letter-spacing:-0.153px;">Progressive Web App</span>
<span class="t" id="t6" style="left:391.70px;top:255.00px;font-size:14px;font-weight:400;color:#161616;letter-spacing:0.105px;">Accessibility</span>
<span class="t" id="t7" style="left:550.00px;top:255.00px;font-size:14px;font-weight:400;color:#161616;letter-spacing:0.010px;">Best Practices</span>
<span class="t" id="t8" style="left:746.01px;top:255.00px;font-size:14px;font-weight:400;color:#161616;letter-spacing:-0.600px;">SEO</span>
<span class="t" id="t9" style="left:88.84px;top:206.00px;font-size:20px;font-weight:400;color:#178239;letter-spacing:0.700px;">75</span>
<span class="t" id="t10" style="left:254.50px;top:206.00px;font-size:20px;font-weight:400;color:#e67700;letter-spacing:0.377px;">45</span>
<span class="t" id="t11" style="left:419.00px;top:206.00px;font-size:20px;font-weight:400;color:#c7221f;letter-spacing:0.377px;">43</span>
<span class="t" id="t12" style="left:584.00px;top:206.00px;font-size:20px;font-weight:400;color:#178239;letter-spacing:0.377px;">81</span>
<span class="t" id="t13" style="left:743.40px;top:206.00px;font-size:20px;font-weight:400;color:#178239;letter-spacing:-0.173px;">100</span>
<span class="t" id="t14" style="left:533.10px;top:305.00px;font-size:14px;font-weight:400;color:#707070;letter-spacing:-0.113px;">Score scale:</span>
<span class="t" id="t15" style="left:646.40px;top:305.00px;font-size:14px;font-weight:400;color:#707070;letter-spacing:-0.678px;">0-44</span>
<span class="t" id="t16" style="left:711.00px;top:305.00px;font-size:14px;font-weight:400;color:#707070;letter-spacing:-0.405px;">45-74</span>
<span class="t" id="t17" style="left:783.50px;top:305.00px;font-size:14px;font-weight:400;color:#707070;letter-spacing:-0.261px;">75-100</span>
<span class="t" id="t18" style="left:26.00px;top:367.00px;font-size:20px;font-weight:400;color:#161616;letter-spacing:0.138px;">Performance</span>
<span class="t" id="t19" style="left:792.71px;top:384.00px;font-size:20px;font-weight:400;color:#178239;letter-spacing:0.700px;">75</span>
<span class="t" id="t20" style="left:57.50px;top:408.00px;font-size:14px;font-weight:700;color:#2e3033;letter-spacing:-0.247px;-webkit-text-stroke:0;">Metrics</span>
<span class="t" id="t21" style="left:34.20px;top:441.00px;font-size:14px;font-weight:400;color:#161616;letter-spacing:0.046px;">First Contentful Paint</span>
<span class="t" id="t22" style="left:332.75px;top:441.00px;font-size:14px;font-weight:400;color:#178239;letter-spacing:-0.191px;">2,210 ms</span>
<span class="t" id="t23" style="left:448.30px;top:441.00px;font-size:14px;font-weight:400;color:#161616;letter-spacing:0.081px;">First Meaningful Paint</span>
<span class="t" id="t24" style="left:746.75px;top:441.00px;font-size:14px;font-weight:400;color:#178239;letter-spacing:-0.191px;">2,560 ms</span>
<span class="t" id="t25" style="left:34.20px;top:482.00px;font-size:14px;font-weight:400;color:#161616;letter-spacing:-0.182px;">Speed Index</span>
<span class="t" id="t26" style="left:332.75px;top:482.00px;font-size:14px;font-weight:400;color:#178239;letter-spacing:-0.191px;">3,880 ms</span>
<span class="t" id="t27" style="left:448.30px;top:482.00px;font-size:14px;font-weight:400;color:#161616;letter-spacing:-0.241px;">First CPU Idle</span>
<span class="t" id="t28" style="left:746.75px;top:482.00px;font-size:14px;font-weight:400;color:#e67700;letter-spacing:-0.042px;">5,110 ms</span>
<span class="t" id="t29" style="left:34.20px;top:523.00px;font-size:14px;font-weight:400;color:#161616;letter-spacing:0.081px;">Time to Interactive</span>
<span class="t" id="t30" style="left:332.75px;top:523.00px;font-size:14px;font-weight:400;color:#e67700;letter-spacing:-0.191px;">7,010 ms</span>
<span class="t" id="t31" style="left:448.30px;top:523.00px;font-size:14px;font-weight:400;color:#161616;letter-spacing:0.023px;">Estimated Input Latency</span>
<span class="t" id="t32" style="left:764.00px;top:523.00px;font-size:14px;font-weight:400;color:#178239;letter-spacing:0.219px;">13 ms</span>
<span class="t" id="t33" style="left:607.40px;top:565.00px;font-size:14px;font-weight:400;color:#707070;letter-spacing:-0.053px;">Values are estimated and may vary.</span>
<span class="t" id="t34" style="left:57.50px;top:729.00px;font-size:14px;font-weight:700;color:#2e3033;letter-spacing:-0.520px;-webkit-text-stroke:0;">Opportunities</span>
<span class="t" id="t35" style="left:27.00px;top:759.00px;font-size:14px;font-weight:400;color:#6c6c6c;letter-spacing:0.025px;">These are opportunities to speed up your application by optimizing the following resources.</span>
<span class="t" id="t36" style="left:184.50px;top:792.00px;font-size:14px;font-weight:400;color:#636363;letter-spacing:-0.011px;">Resource to optimize</span>
<span class="t" id="t37" style="left:597.00px;top:792.00px;font-size:14px;font-weight:400;color:#636363;letter-spacing:-0.028px;">Estimated Savings</span>
<span class="t" id="t38" style="left:39.50px;top:825.00px;font-size:14px;font-weight:400;color:#161616;letter-spacing:0.000px;">1</span>
<span class="t" id="t39" style="left:56.80px;top:825.00px;font-size:14px;font-weight:400;color:#161616;letter-spacing:-0.096px;">Preload key requests</span>
<span class="t" id="t40" style="left:761.50px;top:825.00px;font-size:14px;font-weight:400;color:#c7221f;letter-spacing:-0.128px;">3.17 s</span>
<span class="t" id="t41" style="left:40.50px;top:860.00px;font-size:14px;font-weight:400;color:#161616;letter-spacing:0.000px;">2</span>
<span class="t" id="t42" style="left:56.80px;top:860.00px;font-size:14px;font-weight:400;color:#161616;letter-spacing:-0.004px;">Serve images in next-gen formats</span>
<span class="t" id="t43" style="left:761.50px;top:860.00px;font-size:14px;font-weight:400;color:#c7221f;letter-spacing:-0.128px;">2.57 s</span>
<span class="t" id="t44" style="left:40.50px;top:895.00px;font-size:14px;font-weight:400;color:#161616;letter-spacing:0.000px;">3</span>
<span class="t" id="t45" style="left:56.80px;top:895.00px;font-size:14px;font-weight:400;color:#161616;letter-spacing:0.058px;">Defer offscreen images</span>
<span class="t" id="t46" style="left:761.50px;top:895.00px;font-size:14px;font-weight:400;color:#c7221f;letter-spacing:-0.128px;">2.42 s</span>
<span class="t" id="t47" style="left:40.50px;top:930.00px;font-size:14px;font-weight:400;color:#161616;letter-spacing:0.000px;">4</span>
<span class="t" id="t48" style="left:56.80px;top:930.00px;font-size:14px;font-weight:400;color:#161616;letter-spacing:-0.039px;">Properly size images</span>
<span class="t" id="t49" style="left:761.50px;top:930.00px;font-size:14px;font-weight:400;color:#c7221f;letter-spacing:-0.128px;">0.76 s</span>
<span class="t" id="t50" style="left:40.50px;top:965.00px;font-size:14px;font-weight:400;color:#161616;letter-spacing:0.000px;">5</span>
<span class="t" id="t51" style="left:56.80px;top:965.00px;font-size:14px;font-weight:400;color:#161616;letter-spacing:-0.018px;">Eliminate render-blocking resources</span>
<span class="t" id="t52" style="left:769.50px;top:965.00px;font-size:14px;font-weight:400;color:#e67700;letter-spacing:-0.213px;">0.5 s</span>
<span class="t" id="t53" style="left:40.50px;top:1000.00px;font-size:14px;font-weight:400;color:#161616;letter-spacing:0.000px;">6</span>
<span class="t" id="t54" style="left:56.80px;top:1000.00px;font-size:14px;font-weight:400;color:#161616;letter-spacing:0.045px;">Avoid multiple, costly round trips to any origin</span>
<span class="t" id="t55" style="left:769.50px;top:1000.00px;font-size:14px;font-weight:400;color:#e67700;letter-spacing:-0.213px;">0.3 s</span>
<span class="t" id="t56" style="left:40.50px;top:1035.00px;font-size:14px;font-weight:400;color:#161616;letter-spacing:0.000px;">7</span>
<span class="t" id="t57" style="left:56.80px;top:1035.00px;font-size:14px;font-weight:400;color:#161616;letter-spacing:-0.318px;">Unused CSS rules</span>
<span class="t" id="t58" style="left:761.50px;top:1035.00px;font-size:14px;font-weight:400;color:#178239;letter-spacing:-0.128px;">0.15 s</span>
</body></html>
